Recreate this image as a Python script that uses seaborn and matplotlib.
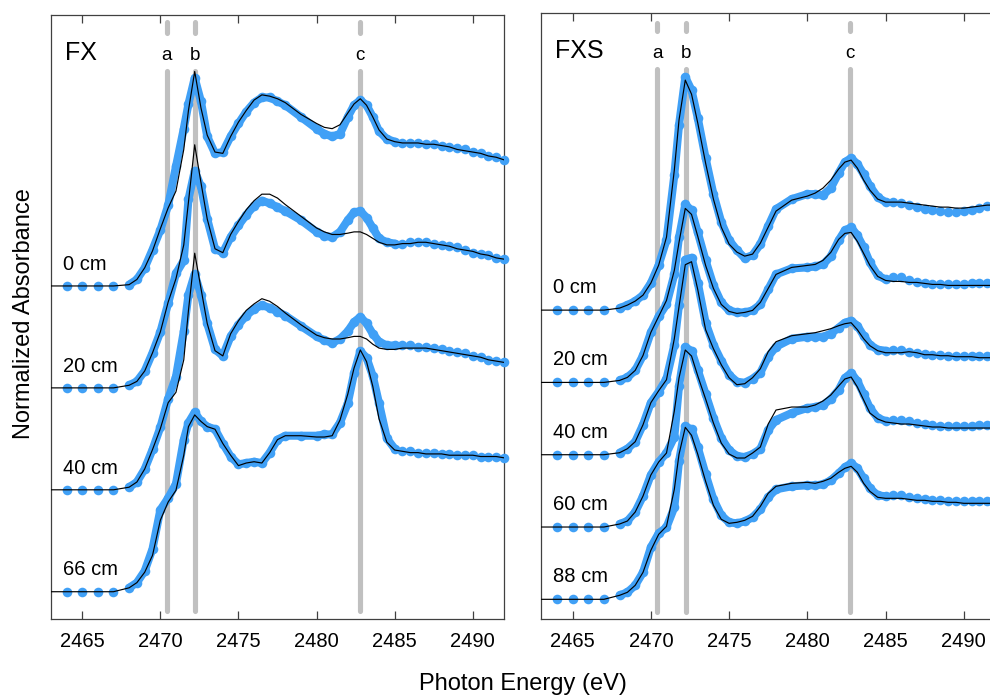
import numpy as np
import pandas as pd
import matplotlib
matplotlib.use("Agg")
import matplotlib.pyplot as plt
import seaborn as sns

# ------------------------------------------------------------------
# S K-edge XANES (normalized, before stacking)
# ------------------------------------------------------------------
E_DATA = [2464, 2465, 2466, 2467, 2468, 2468.5, 2469, 2469.5, 2470, 2470.5,
          2471, 2471.5, 2471.8, 2472.2, 2472.6, 2473, 2473.5, 2474, 2474.5, 2475,
          2475.5, 2476, 2476.5, 2477, 2477.5, 2478, 2479, 2480, 2480.5, 2481,
          2481.5, 2482, 2482.4, 2482.8, 2483.2, 2483.6, 2484, 2484.5, 2485, 2485.5,
          2486, 2486.5, 2487, 2487.5, 2488, 2488.5, 2489, 2489.5, 2490, 2490.5,
          2491, 2491.5, 2492]
E_FIT = [2463] + E_DATA

# --- FX ---
FX_0_DATA = [0, 0, 0, 0, 0.01, 0.05, 0.14, 0.28, 0.43, 0.62,
             0.92, 1.21, 1.40, 1.60, 1.42, 1.15, 1.02, 1.03, 1.15, 1.25,
             1.34, 1.41, 1.45, 1.45, 1.42, 1.39, 1.30, 1.21, 1.17, 1.15,
             1.17, 1.30, 1.39, 1.43, 1.39, 1.30, 1.19, 1.13, 1.11, 1.10,
             1.10, 1.10, 1.09, 1.09, 1.08, 1.07, 1.06, 1.05, 1.03, 1.02,
             1.00, 0.99, 0.97]
FX_0_FIT = [0,
            0, 0, 0, 0, 0.01, 0.05, 0.14, 0.27, 0.44, 0.60,
            0.73, 1.05, 1.35, 1.65, 1.37, 1.16, 1.03, 1.02, 1.15, 1.26,
            1.35, 1.43, 1.47, 1.46, 1.44, 1.41, 1.32, 1.25, 1.22, 1.21,
            1.24, 1.33, 1.40, 1.44, 1.39, 1.30, 1.20, 1.13, 1.11, 1.10,
            1.10, 1.10, 1.09, 1.09, 1.08, 1.07, 1.05, 1.04, 1.03, 1.02,
            1.00, 0.99, 0.97]
FX_20_DATA = [0, 0, 0, 0, 0.02, 0.05, 0.13, 0.27, 0.43, 0.65,
              0.88, 0.98, 1.45, 1.67, 1.55, 1.30, 1.07, 1.04, 1.16, 1.25,
              1.33, 1.40, 1.44, 1.42, 1.39, 1.36, 1.29, 1.20, 1.17, 1.16,
              1.20, 1.29, 1.35, 1.36, 1.31, 1.23, 1.15, 1.12, 1.11, 1.11,
              1.12, 1.12, 1.12, 1.11, 1.10, 1.09, 1.08, 1.06, 1.04, 1.03,
              1.02, 1.00, 0.99]
FX_20_FIT = [0,
             0, 0, 0, 0, 0.02, 0.05, 0.13, 0.27, 0.43, 0.66,
             0.84, 1.10, 1.43, 1.87, 1.58, 1.30, 1.07, 1.04, 1.18, 1.28,
             1.37, 1.44, 1.49, 1.49, 1.46, 1.41, 1.32, 1.23, 1.20, 1.18,
             1.18, 1.19, 1.20, 1.20, 1.18, 1.15, 1.12, 1.10, 1.10, 1.11,
             1.11, 1.12, 1.12, 1.11, 1.10, 1.09, 1.07, 1.06, 1.05, 1.03,
             1.02, 1.00, 0.99]
FX_40_DATA = [0, 0, 0, 0, 0.02, 0.06, 0.16, 0.31, 0.48, 0.70,
              0.87, 1.22, 1.50, 1.66, 1.50, 1.28, 1.08, 1.03, 1.18, 1.27,
              1.34, 1.39, 1.42, 1.40, 1.37, 1.34, 1.26, 1.18, 1.15, 1.13,
              1.16, 1.22, 1.29, 1.33, 1.28, 1.20, 1.14, 1.11, 1.11, 1.11,
              1.11, 1.10, 1.10, 1.09, 1.08, 1.07, 1.06, 1.05, 1.03, 1.02,
              1.00, 0.99, 0.98]
FX_40_FIT = [0,
             0, 0, 0, 0, 0.02, 0.06, 0.16, 0.31, 0.47, 0.67,
             0.75, 1.00, 1.38, 1.82, 1.55, 1.28, 1.07, 1.03, 1.20, 1.30,
             1.38, 1.43, 1.47, 1.45, 1.41, 1.36, 1.27, 1.19, 1.17, 1.16,
             1.16, 1.17, 1.18, 1.18, 1.16, 1.12, 1.09, 1.08, 1.08, 1.09,
             1.09, 1.09, 1.09, 1.08, 1.07, 1.06, 1.05, 1.04, 1.03, 1.02,
             1.00, 0.99, 0.98]
FX_66_DATA = [0, 0, 0, 0, 0.03, 0.07, 0.16, 0.33, 0.63, 0.72,
              0.83, 1.17, 1.30, 1.38, 1.31, 1.27, 1.25, 1.14, 1.04, 0.98,
              0.99, 1.00, 0.99, 1.07, 1.17, 1.20, 1.20, 1.20, 1.21, 1.21,
              1.30, 1.45, 1.68, 1.85, 1.80, 1.66, 1.45, 1.18, 1.10, 1.08,
              1.08, 1.07, 1.07, 1.07, 1.06, 1.06, 1.05, 1.05, 1.05, 1.04,
              1.04, 1.04, 1.03]
FX_66_FIT = [0,
             0, 0, 0, 0, 0.03, 0.07, 0.15, 0.28, 0.55, 0.69,
             0.78, 1.05, 1.27, 1.36, 1.31, 1.27, 1.25, 1.14, 1.05, 0.97,
             0.99, 1.00, 0.99, 1.07, 1.17, 1.20, 1.20, 1.19, 1.19, 1.20,
             1.32, 1.52, 1.72, 1.86, 1.77, 1.58, 1.33, 1.15, 1.09, 1.08,
             1.07, 1.07, 1.06, 1.06, 1.06, 1.05, 1.05, 1.05, 1.05, 1.04,
             1.04, 1.04, 1.03]

# --- FXS ---
FXS_0_DATA = [0, 0, 0, 0, 0.02, 0.05, 0.09, 0.15, 0.27, 0.45,
              0.70, 1.35, 1.85, 2.33, 2.20, 1.92, 1.52, 1.16, 0.88, 0.70,
              0.60, 0.52, 0.55, 0.66, 0.84, 1.01, 1.11, 1.16, 1.16, 1.15,
              1.22, 1.37, 1.48, 1.52, 1.46, 1.36, 1.24, 1.13, 1.08, 1.08,
              1.07, 1.05, 1.03, 1.01, 1.00, 0.99, 0.98, 0.98, 0.99, 1.00,
              1.02, 1.04, 1.05]
FXS_0_FIT = [0,
             0, 0, 0, 0, 0.02, 0.05, 0.09, 0.15, 0.27, 0.45,
             0.73, 1.40, 1.90, 2.30, 2.16, 1.87, 1.47, 1.11, 0.83, 0.66,
             0.58, 0.54, 0.56, 0.67, 0.83, 0.99, 1.10, 1.14, 1.17, 1.22,
             1.30, 1.41, 1.48, 1.50, 1.42, 1.30, 1.20, 1.11, 1.08, 1.08,
             1.08, 1.07, 1.06, 1.05, 1.04, 1.03, 1.03, 1.02, 1.02, 1.03,
             1.04, 1.05, 1.05]
FXS_20_DATA = [0, 0, 0, 0, 0.02, 0.05, 0.12, 0.27, 0.50, 0.66,
               0.78, 1.08, 1.45, 1.78, 1.72, 1.50, 1.22, 0.97, 0.80, 0.72,
               0.70, 0.70, 0.72, 0.78, 0.93, 1.08, 1.14, 1.15, 1.16, 1.18,
               1.26, 1.42, 1.52, 1.55, 1.47, 1.35, 1.20, 1.07, 1.03, 1.05,
               1.05, 1.02, 1.00, 0.99, 0.98, 0.98, 0.98, 0.98, 0.98, 0.99,
               0.99, 0.99, 0.99]
FXS_20_FIT = [0,
              0, 0, 0, 0, 0.02, 0.05, 0.12, 0.27, 0.50, 0.66,
              0.82, 1.12, 1.40, 1.74, 1.68, 1.46, 1.17, 0.94, 0.78, 0.71,
              0.69, 0.70, 0.72, 0.80, 0.94, 1.08, 1.15, 1.17, 1.18, 1.22,
              1.30, 1.43, 1.49, 1.50, 1.41, 1.29, 1.17, 1.06, 1.02, 1.01,
              1.01, 1.00, 1.00, 0.99, 0.98, 0.98, 0.97, 0.97, 0.97, 0.97,
              0.97, 0.97, 0.97]
FXS_40_DATA = [0, 0, 0, 0, 0.02, 0.06, 0.13, 0.30, 0.52, 0.63,
               0.76, 1.10, 1.50, 1.95, 1.97, 1.72, 1.32, 1.10, 0.94, 0.80,
               0.73, 0.72, 0.76, 0.82, 0.98, 1.08, 1.16, 1.18, 1.18, 1.18,
               1.21, 1.27, 1.32, 1.34, 1.29, 1.19, 1.10, 1.05, 1.04, 1.05,
               1.05, 1.03, 1.02, 1.01, 1.00, 1.00, 0.99, 0.99, 0.99, 0.99,
               0.99, 0.99, 0.99]
FXS_40_FIT = [0,
              0, 0, 0, 0, 0.02, 0.06, 0.13, 0.30, 0.52, 0.64,
              0.75, 1.16, 1.48, 1.90, 1.93, 1.65, 1.25, 1.06, 0.90, 0.77,
              0.70, 0.71, 0.77, 0.86, 1.03, 1.13, 1.19, 1.21, 1.22, 1.24,
              1.26, 1.29, 1.31, 1.32, 1.25, 1.16, 1.09, 1.04, 1.02, 1.02,
              1.02, 1.03, 1.02, 1.00, 1.00, 0.99, 0.99, 0.98, 0.98, 0.98,
              0.97, 0.97, 0.97]
FXS_60_DATA = [0, 0, 0, 0, 0.03, 0.06, 0.15, 0.31, 0.52, 0.65,
               0.74, 0.90, 1.41, 1.80, 1.76, 1.57, 1.33, 1.09, 0.89, 0.77,
               0.71, 0.70, 0.73, 0.78, 0.97, 1.07, 1.14, 1.19, 1.20, 1.22,
               1.28, 1.37, 1.49, 1.54, 1.46, 1.33, 1.19, 1.09, 1.06, 1.07,
               1.07, 1.06, 1.04, 1.03, 1.02, 1.01, 1.01, 1.01, 1.01, 1.01,
               1.02, 1.02, 1.02]
FXS_60_FIT = [0,
              0, 0, 0, 0, 0.03, 0.06, 0.15, 0.31, 0.52, 0.65,
              0.74, 1.16, 1.49, 1.77, 1.71, 1.51, 1.28, 1.04, 0.84, 0.73,
              0.69, 0.69, 0.74, 0.80, 1.03, 1.17, 1.20, 1.20, 1.22, 1.26,
              1.32, 1.41, 1.48, 1.50, 1.40, 1.27, 1.14, 1.08, 1.05, 1.04,
              1.03, 1.03, 1.02, 1.01, 1.00, 1.00, 0.99, 0.99, 0.99, 0.99,
              0.99, 0.99, 0.99]
FXS_88_DATA = [0, 0, 0, 0, 0.04, 0.07, 0.14, 0.27, 0.52, 0.66,
               0.72, 0.92, 1.38, 1.73, 1.70, 1.52, 1.25, 1.00, 0.84, 0.77,
               0.76, 0.78, 0.82, 0.90, 1.02, 1.10, 1.13, 1.14, 1.14, 1.15,
               1.19, 1.26, 1.32, 1.36, 1.31, 1.21, 1.11, 1.04, 1.03, 1.04,
               1.04, 1.02, 1.01, 1.00, 0.99, 0.99, 0.98, 0.98, 0.98, 0.98,
               0.98, 0.98, 0.98]
FXS_88_FIT = [0,
              0, 0, 0, 0, 0.04, 0.07, 0.14, 0.27, 0.49, 0.65,
              0.73, 1.10, 1.45, 1.72, 1.64, 1.45, 1.18, 0.94, 0.80, 0.76,
              0.77, 0.79, 0.83, 0.93, 1.06, 1.13, 1.16, 1.17, 1.16, 1.18,
              1.21, 1.27, 1.31, 1.33, 1.27, 1.16, 1.08, 1.02, 1.01, 1.01,
              1.01, 1.00, 0.99, 0.99, 0.98, 0.98, 0.97, 0.97, 0.96, 0.96,
              0.96, 0.96, 0.96]

FX_LABELS = ["0 cm", "20 cm", "40 cm", "66 cm"]
FXS_LABELS = ["0 cm", "20 cm", "40 cm", "60 cm", "88 cm"]
FEATURES = {"a": 2470.4, "b": 2472.25, "c": 2482.75}
XTICKS = [2465, 2470, 2475, 2480, 2485, 2490]

BLUE = "#40a0f6"
GREY = "#c0c0c0"
SPINE = "#404040"

sns.set_style("ticks")
plt.rcParams["font.family"] = ["Liberation Sans", "DejaVu Sans"]
plt.rcParams["text.color"] = "black"
plt.rcParams["xtick.labelcolor"] = "black"


def stack(labels, datas, fits, step):
    # stack spectra bottom-up: last label sits at the bottom
    dots, lines = [], []
    n = len(labels)
    for i, (lab, d, f) in enumerate(zip(labels, datas, fits)):
        off = (n - 1 - i) * step
        dots.append(pd.DataFrame({"energy": E_DATA, "absorbance": np.add(d, off),
                                  "depth": lab, "offset": off}))
        lines.append(pd.DataFrame({"energy": E_FIT, "absorbance": np.add(f, off),
                                   "depth": lab, "offset": off}))
    return pd.concat(dots, ignore_index=True), pd.concat(lines, ignore_index=True)


def draw_panel(ax, title, dots, lines, ylim, label_dy, grey_low, grey_top):
    trans = ax.get_xaxis_transform()
    for name, e in FEATURES.items():
        ax.plot([e, e], grey_low, transform=trans, color=GREY, lw=3.7,
                solid_capstyle="round", zorder=1)
        ax.plot([e, e], grey_top, transform=trans, color=GREY, lw=3.7,
                solid_capstyle="round", zorder=1)
        ax.text(e, 0.926, name, transform=trans, ha="center", va="baseline",
                fontsize=13.5, zorder=5)

    band = dots[(dots["energy"] >= 2468) & (dots["energy"] <= 2485)]
    sns.lineplot(data=band, x="energy", y="absorbance", units="depth", estimator=None,
                 sort=False, color=BLUE, lw=5.8, solid_capstyle="round",
                 legend=False, ax=ax, zorder=2)
    sns.scatterplot(data=dots, x="energy", y="absorbance", color=BLUE, s=48,
                    linewidth=0, legend=False, ax=ax, zorder=3, clip_on=False)
    sns.lineplot(data=lines, x="energy", y="absorbance", units="depth", estimator=None,
                 sort=False, color="black", lw=0.85, legend=False, ax=ax, zorder=4)

    for lab, off in dots.groupby("depth", sort=False)["offset"].first().items():
        ax.text(2463.75, off + label_dy, lab, fontsize=14.5, va="baseline", zorder=5)

    ax.text(0.031, 0.926, title, transform=ax.transAxes, fontsize=18, va="baseline")

    ax.set_xlim(2463, 2492)
    ax.set_ylim(*ylim)
    ax.set_xticks(XTICKS)
    ax.set_yticks([])
    ax.set_xlabel("")
    ax.set_ylabel("")
    for sp in ax.spines.values():
        sp.set_visible(True)
        sp.set_color(SPINE)
        sp.set_linewidth(0.9)
    ax.tick_params(axis="x", which="both", direction="in", top=True, bottom=True,
                   labeltop=False, length=5.5, width=0.9, color=SPINE,
                   labelcolor="black", labelsize=14.5, pad=9)


fig = plt.figure(figsize=(9.9, 6.96), dpi=100)
ax_fx = fig.add_axes([0.0515, 0.1106, 0.4576, 0.8678])
ax_fxs = fig.add_axes([0.5468, 0.1106, 0.4583, 0.8707])

fx_dots, fx_lines = stack(FX_LABELS,
                          [FX_0_DATA, FX_20_DATA, FX_40_DATA, FX_66_DATA],
                          [FX_0_FIT, FX_20_FIT, FX_40_FIT, FX_66_FIT], 0.784)
fxs_dots, fxs_lines = stack(FXS_LABELS,
                            [FXS_0_DATA, FXS_20_DATA, FXS_40_DATA, FXS_60_DATA, FXS_88_DATA],
                            [FXS_0_FIT, FXS_20_FIT, FXS_40_FIT, FXS_60_FIT, FXS_88_FIT], 0.723)

draw_panel(ax_fx, "FX", fx_dots, fx_lines, (-0.21, 4.436), 0.125,
           (0.014, 0.908), (0.971, 0.988))
draw_panel(ax_fxs, "FXS", fxs_dots, fxs_lines, (-0.197, 5.863), 0.17,
           (0.011, 0.907), (0.971, 0.983))

fig.text(24 / 990, 1 - 314 / 696, "Normalized Absorbance", rotation=90,
         ha="center", va="center", fontsize=17)
fig.text(523 / 990, 1 - 684 / 696, "Photon Energy (eV)", ha="center", va="center",
         fontsize=17)

fig.savefig("out.png", dpi=100)
